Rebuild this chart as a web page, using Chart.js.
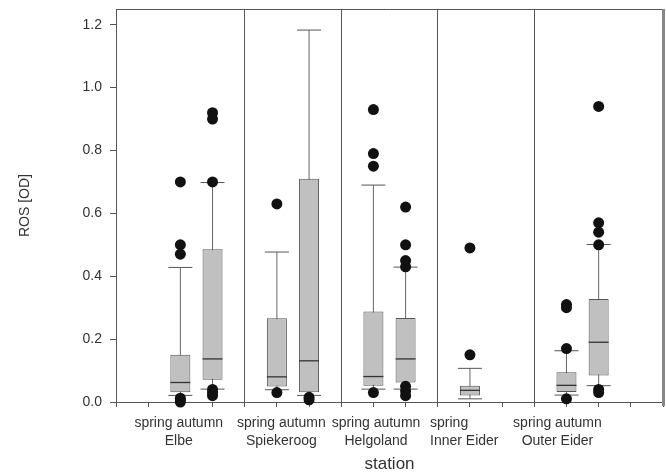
<!DOCTYPE html>
<html>
<head>
<meta charset="utf-8">
<title>ROS by station</title>
<script src="https://cdn.jsdelivr.net/npm/chart.js@4.4.0/dist/chart.umd.min.js"></script>
<style>
body { margin: 0; background: #fff; }
</style>
</head>
<body>
<canvas id="chart" width="666" height="475"></canvas>
<script>
// box positions on the station axis (spring/autumn per station)
var boxX = [2, 3, 5, 6, 8, 9, 11, 14, 15];
var stations = ['Elbe', 'Spiekeroog', 'Helgoland', 'Inner Eider', 'Outer Eider'];
var seasons = ['spring autumn', 'spring autumn', 'spring autumn', 'spring', 'spring autumn'];
var dividers = [4, 7, 10, 13];

var whiskerLow = [0.021, 0.041, 0.039, 0.021, 0.041, 0.041, 0.010, 0.022, 0.052];
var q1 = [0.031, 0.071, 0.049, 0.031, 0.052, 0.062, 0.021, 0.032, 0.084];
var median = [0.062, 0.137, 0.080, 0.131, 0.081, 0.137, 0.037, 0.053, 0.190];
var q3 = [0.150, 0.486, 0.266, 0.710, 0.288, 0.267, 0.052, 0.095, 0.328];
var whiskerHigh = [0.428, 0.698, 0.477, 1.183, 0.690, 0.429, 0.107, 0.163, 0.501];
var outliers = [
	[0.70, 0.50, 0.47, 0.012, 0.006, 0.0],
	[0.92, 0.90, 0.70, 0.04, 0.03, 0.02],
	[0.63, 0.03],
	[0.015, 0.007],
	[0.93, 0.79, 0.75, 0.03],
	[0.62, 0.50, 0.45, 0.43, 0.05, 0.035, 0.02],
	[0.49, 0.15],
	[0.31, 0.30, 0.17, 0.01],
	[0.94, 0.57, 0.54, 0.50, 0.04, 0.03]
];
var yTicks = [0, 0.2, 0.4, 0.6, 0.8, 1.0, 1.2];

// where the station labels sit on the x scale
var labelX = [1.95, 5.14, 8.08, 9.76, 13.72];
var labelAlign = ['center', 'center', 'center', 'left', 'center'];

var font = '"Liberation Sans", Arial, sans-serif';
Chart.defaults.font.family = font;
Chart.defaults.color = '#333';

var whiskers = [], boxes = [], medians = [], caps = [], dots = [];
for (var i = 0; i < boxX.length; i++) {
	whiskers.push({x: boxX[i], y: [whiskerLow[i], whiskerHigh[i]]});
	boxes.push({x: boxX[i], y: [q1[i], q3[i]]});
	medians.push({x: boxX[i], y: median[i]});
	caps.push({x: boxX[i], y: whiskerLow[i]});
	caps.push({x: boxX[i], y: whiskerHigh[i]});
	for (var j = 0; j < outliers[i].length; j++) dots.push({x: boxX[i], y: outliers[i][j]});
}

var framePlugin = {
	id: 'frame',
	afterDraw: function(chart) {
		var ctx = chart.ctx, a = chart.chartArea, xs = chart.scales.x;
		ctx.save();
		ctx.strokeStyle = '#555';
		ctx.lineWidth = 1;
		ctx.beginPath();
		ctx.moveTo(a.left, a.top + 0.5);
		ctx.lineTo(a.right, a.top + 0.5);
		ctx.stroke();
		ctx.strokeStyle = '#888';
		ctx.lineWidth = 3;
		ctx.beginPath();
		ctx.moveTo(a.right + 0.5, a.top);
		ctx.lineTo(a.right + 0.5, a.bottom + 4);
		ctx.stroke();

		//station labels under the axis
		ctx.fillStyle = '#333';
		ctx.font = '14px ' + font;
		ctx.textBaseline = 'middle';
		for (var k = 0; k < stations.length; k++) {
			var px = xs.getPixelForValue(labelX[k]);
			ctx.textAlign = labelAlign[k];
			ctx.fillText(seasons[k], px, a.bottom + 21);
			ctx.fillText(stations[k], px, a.bottom + 39);
		}
		ctx.restore();
	}
};

var chart = new Chart(document.getElementById('chart'), {
	type: 'bar',
	data: {
		datasets: [{
			type: 'scatter',
			data: dots,
			pointRadius: 5.5,
			pointBackgroundColor: '#111',
			pointBorderWidth: 0,
			clip: false,
			order: 0
		}, {
			type: 'scatter',
			data: caps,
			pointStyle: 'line',
			pointRadius: 12,
			pointBorderColor: '#555',
			pointBorderWidth: 1,
			order: 1
		}, {
			type: 'scatter',
			data: medians,
			pointStyle: 'line',
			pointRadius: 10,
			pointBorderColor: '#333',
			pointBorderWidth: 1.3,
			order: 1
		}, {
			data: boxes,
			backgroundColor: '#c0c0c0',
			borderColor: '#555',
			borderWidth: 1,
			borderSkipped: false,
			grouped: false,
			maxBarThickness: 20,
			order: 2
		}, {
			data: whiskers,
			backgroundColor: '#666',
			borderWidth: 0,
			grouped: false,
			maxBarThickness: 1,
			order: 3
		}]
	},
	options: {
		responsive: false,
		animation: false,
		events: [],
		layout: { autoPadding: false, padding: { top: 9, right: 3, left: 0, bottom: 0 } },
		plugins: {
			legend: { display: false },
			tooltip: { enabled: false }
		},
		scales: {
			x: {
				type: 'linear',
				min: 0,
				max: 17,
				offset: false,
				ticks: { display: false, stepSize: 1 },
				grid: {
					offset: false,
					drawTicks: true,
					tickLength: 5,
					tickColor: '#555',
					color: function(c) {
						return c.tick && dividers.indexOf(c.tick.value) >= 0 ? '#555' : 'rgba(0,0,0,0)';
					}
				},
				border: { color: '#555' },
				title: {
					display: true,
					text: 'station',
					font: { size: 17 },
					color: '#333',
					padding: { top: 0, bottom: 0 }
				},
				afterFit: function(s) { s.height = 73; }
			},
			y: {
				min: 0,
				max: 1.25,
				afterBuildTicks: function(s) {
					s.ticks = yTicks.map(function(v) { return {value: v}; });
				},
				ticks: {
					padding: 8,
					font: { size: 14 },
					color: '#333',
					callback: function(v) { return Number(v).toFixed(1); }
				},
				grid: {
					drawOnChartArea: false,
					drawTicks: true,
					tickLength: 6,
					tickColor: '#555'
				},
				border: { color: '#555' },
				title: {
					display: true,
					text: 'ROS [OD]',
					font: { size: 14 },
					color: '#333',
					padding: { top: 17, bottom: 0 }
				},
				afterFit: function(s) {
					s.width = 116;
					s.paddingTop = 0;
				}
			}
		}
	},
	plugins: [framePlugin]
});
</script>
</body>
</html>
